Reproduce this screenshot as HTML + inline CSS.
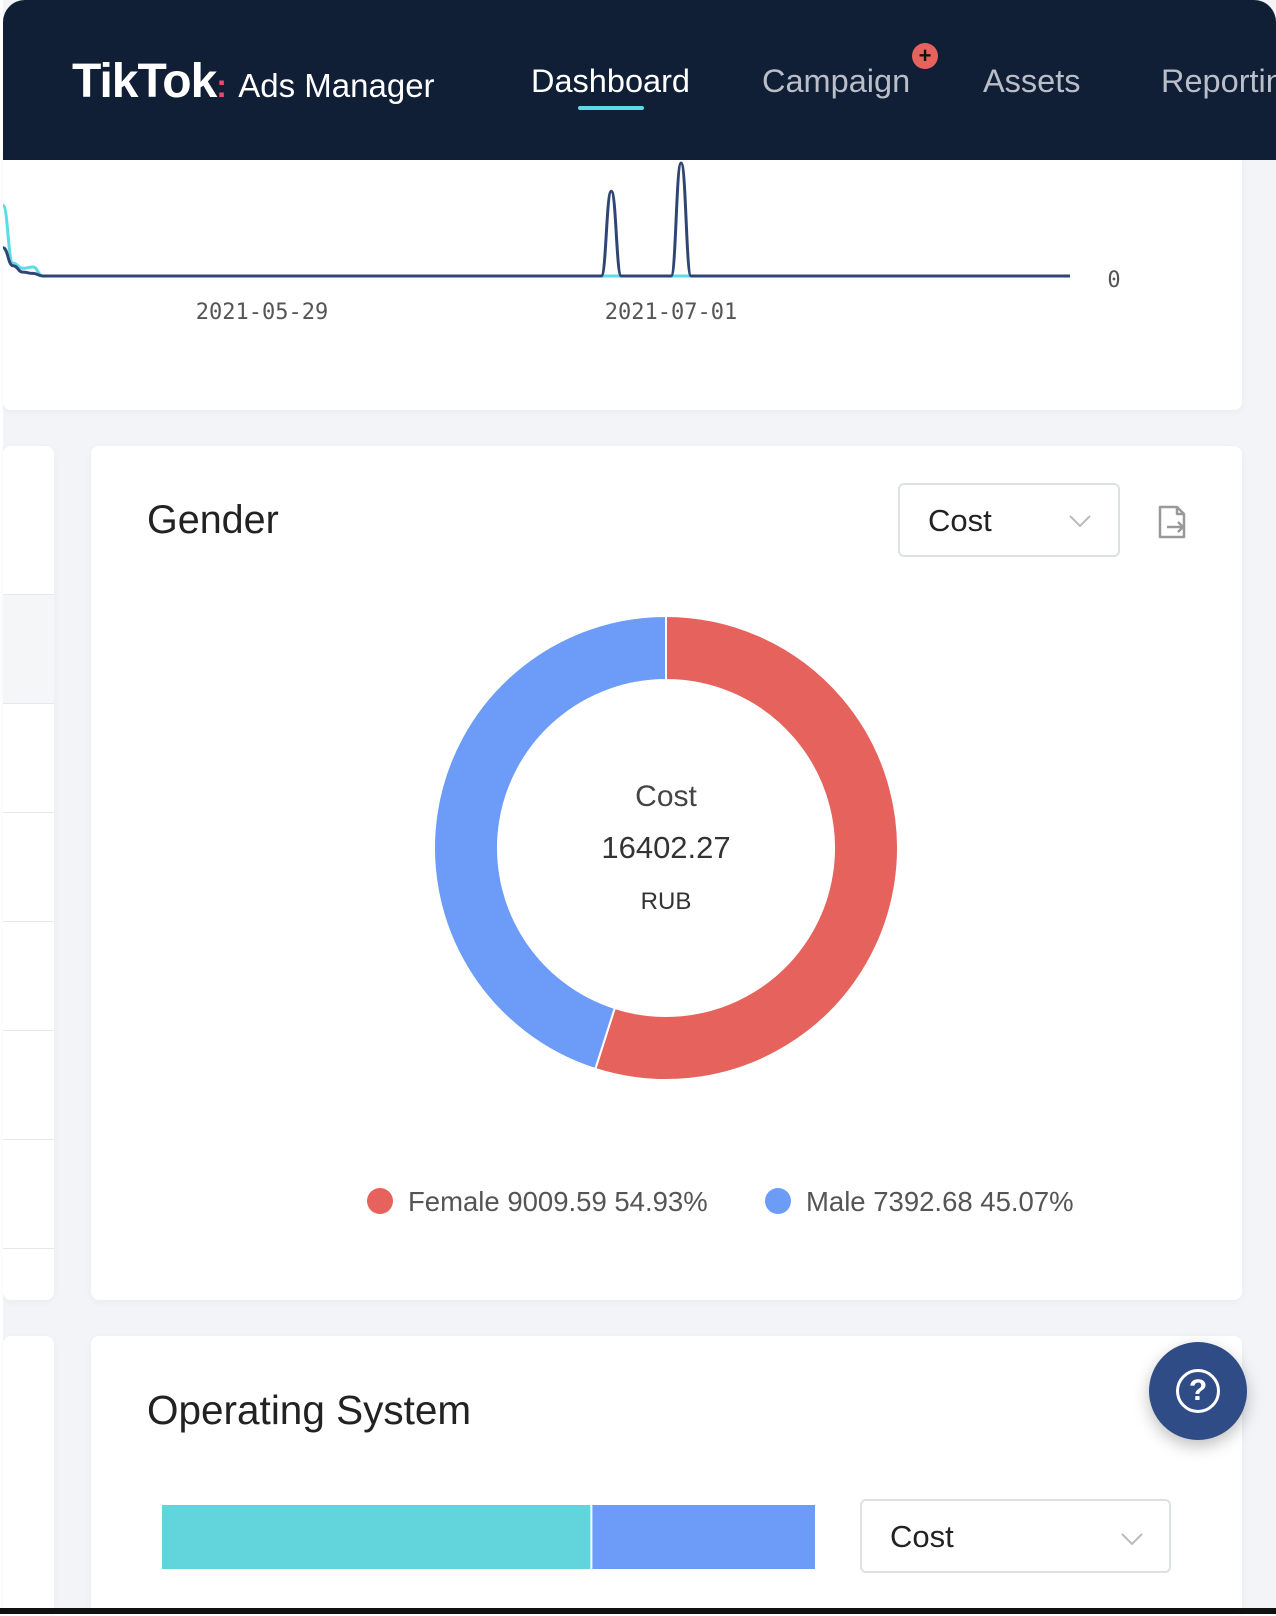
<!DOCTYPE html>
<html><head><meta charset="utf-8">
<style>
body{margin:0;width:1276px;height:1614px;background:#fff;font-family:"Liberation Sans",sans-serif;overflow:hidden;position:relative}
.abs{position:absolute}
.bg{left:3px;top:0;width:1273px;height:1608px;background:#f2f4f7}
.card{background:#fff;border-radius:8px;box-shadow:0 2px 8px rgba(0,0,0,0.04)}
.nav{color:#b9bec8;font-size:32.5px;top:63px}
.sel{border:2px solid #dde1e6;border-radius:6px;background:#fff;box-sizing:border-box}
</style></head><body>
<div class="abs bg"></div>
<div class="abs card" style="left:3px;top:150px;width:1239px;height:260px"></div>
<svg class="abs" style="left:0;top:150px" width="1276" height="180">
<g id="trend"></g>
<text x="1114" y="137" font-size="22" fill="#555" text-anchor="middle" font-family="DejaVu Sans Mono, monospace">0</text>
<text x="262" y="169" font-size="22" fill="#555" text-anchor="middle" font-family="DejaVu Sans Mono, monospace">2021-05-29</text>
<text x="671" y="169" font-size="22" fill="#555" text-anchor="middle" font-family="DejaVu Sans Mono, monospace">2021-07-01</text>
</svg>
<div class="abs" style="left:3px;top:0;width:1273px;height:160px;background:#101e36;border-radius:22px 22px 0 0"></div>
<div class="abs" style="left:72px;top:54px;color:#fff;font-size:48px;font-weight:bold;letter-spacing:-1px">TikTok<span style="color:#e94c6a;font-size:32px">:</span> <span style="font-weight:normal;font-size:33px;letter-spacing:0">Ads Manager</span></div>
<div class="abs nav" style="left:531px;color:#fff">Dashboard</div>
<div class="abs" style="left:578px;top:106px;width:66px;height:4px;background:#5ddbe4;border-radius:2px"></div>
<div class="abs nav" style="left:762px">Campaign</div>
<div class="abs" style="left:912px;top:43px;width:26px;height:26px;border-radius:13px;background:#e5635c;color:#111;font-size:22px;line-height:25px;text-align:center;font-weight:bold">+</div>
<div class="abs nav" style="left:983px">Assets</div>
<div class="abs nav" style="left:1161px">Reporting</div>

<div class="abs card" style="left:3px;top:446px;width:51px;height:854px">
<div style="position:absolute;left:0;top:148px;width:51px;height:108px;background:#f5f6f8;border-top:1px solid #e6e8eb;border-bottom:1px solid #e6e8eb"></div>
<div style="position:absolute;left:0;top:366px;width:51px;border-top:1px solid #e6e8eb"></div>
<div style="position:absolute;left:0;top:475px;width:51px;border-top:1px solid #e6e8eb"></div>
<div style="position:absolute;left:0;top:584px;width:51px;border-top:1px solid #e6e8eb"></div>
<div style="position:absolute;left:0;top:693px;width:51px;border-top:1px solid #e6e8eb"></div>
<div style="position:absolute;left:0;top:802px;width:51px;border-top:1px solid #e6e8eb"></div>
</div>
<div class="abs card" style="left:91px;top:446px;width:1151px;height:854px"></div>
<div class="abs" style="left:147px;top:498px;font-size:39.5px;color:#222">Gender</div>
<div class="abs sel" style="left:898px;top:483px;width:222px;height:74px">
<span style="position:absolute;left:28px;top:18px;font-size:31px;color:#222">Cost</span>
<svg style="position:absolute;left:168px;top:28px" width="24" height="16"><polyline points="2,3 12,13 22,3" fill="none" stroke="#bbb" stroke-width="2"/></svg></div>
<svg class="abs" style="left:1157px;top:504px" width="32" height="36"><path d="M3 3h17l7 7v23H3z M20 3v7h7" fill="none" stroke="#999" stroke-width="2.5" stroke-linejoin="round"/><path d="M10 23h16m-5-5 5 5-5 5" fill="none" stroke="#999" stroke-width="2.5"/></svg>
<svg class="abs" style="left:0;top:0" width="1276" height="1300"><g id="donut"></g>
<text x="666" y="806" font-size="30" fill="#444" text-anchor="middle">Cost</text>
<text x="666" y="858" font-size="31" fill="#333" text-anchor="middle">16402.27</text>
<text x="666" y="909" font-size="24" fill="#333" text-anchor="middle">RUB</text>
<g id="legend"></g></svg>

<div class="abs card" style="left:3px;top:1336px;width:51px;height:280px"></div>
<div class="abs card" style="left:91px;top:1336px;width:1151px;height:280px"></div>
<div class="abs" style="left:147px;top:1387px;font-size:40.5px;color:#222">Operating System</div>
<svg class="abs" style="left:0;top:1490px" width="850" height="100"><g id="osbar"></g></svg>
<div class="abs sel" style="left:860px;top:1499px;width:311px;height:74px">
<span style="position:absolute;left:28px;top:18px;font-size:31px;color:#222">Cost</span>
<svg style="position:absolute;left:258px;top:30px" width="24" height="16"><polyline points="2,3 12,13 22,3" fill="none" stroke="#bbb" stroke-width="2"/></svg></div>
<div class="abs" style="left:1149px;top:1342px;width:98px;height:98px;border-radius:49px;background:#2f4c86;box-shadow:0 6px 16px rgba(0,0,0,0.25)">
<div style="position:absolute;left:27px;top:27px;width:38px;height:38px;border:3px solid #fff;border-radius:50%;color:#fff;font-size:30px;line-height:38px;text-align:center;font-weight:bold">?</div></div>
<div class="abs" style="left:0;top:1608px;width:1276px;height:6px;background:#111"></div>
<script>
const NS='http://www.w3.org/2000/svg';
function mk(t,a,p){const e=document.createElementNS(NS,t);for(const k in a)e.setAttribute(k,a[k]);p.appendChild(e);return e;}
const trendDates=[0,1,2,3,4,5,6,7,8,9,10,11,12,13,14,15,16,17,18,19,20,21,22,23,24,25,26,27,28,29,30,31,32,33,34,35,36,37,38,39,40,41,42,43,44,45,46,47,48,49,50,51,52,53,54,55,56,57,58,59,60,61,62,63,64,65,66,67,68,69,70,71,72,73,74,75,76,77,78,79,80,81,82,83,84,85,86,87,88,89,90,91,92,93,94,95,96,97,98,99,100,101,102,103,104,105,106,107];
const costSeries=[22,8,3,2,0,0,0,0,0,0,0,0,0,0,0,0,0,0,0,0,0,0,0,0,0,0,0,0,0,0,0,0,0,0,0,0,0,0,0,0,0,0,0,0,0,0,0,0,0,0,0,0,0,0,0,0,0,0,0,0,0,66,0,0,0,0,0,0,88,0,0,0,0,0,0,0,0,0,0,0,0,0,0,0,0,0,0,0,0,0,0,0,0,0,0,0,0,0,0,0,0,0,0,0,0,0,0,0];
const convSeries=[55,10,6,7,0,0,0,0,0,0,0,0,0,0,0,0,0,0,0,0,0,0,0,0,0,0,0,0,0,0,0,0,0,0,0,0,0,0,0,0,0,0,0,0,0,0,0,0,0,0,0,0,0,0,0,0,0,0,0,0,0,0,0,0,0,0,0,0,0,0,0,0,0,0,0,0,0,0,0,0,0,0,0,0,0,0,0,0,0,0,0,0,0,0,0,0,0,0,0,0,0,0,0,0,0,0,0,0];
const tx=i=>3+i*(1070-3)/(trendDates.length-1);
const ty=v=>126-v*(126-13)/88;
const tg=document.getElementById('trend');
function tline(arr,col,name){let d='M'+tx(0)+' '+ty(arr[0]);
for(let i=1;i<arr.length;i++){const x0=tx(i-1),x1=tx(i),m=(x0+x1)/2;d+=`C${m} ${ty(arr[i-1])} ${m} ${ty(arr[i])} ${x1} ${ty(arr[i])}`;}
const p=mk('path',{d:d,fill:'none',stroke:col,'stroke-width':3,'stroke-linejoin':'round'},tg);

}
tline(convSeries,'#5ddbe4','conversion-line');
tline(costSeries,'#2f4675','cost-line');
const genderLabels=['Female','Male'];
const genderValues=[9009.59,7392.68];
const genderColors=['#e5635c','#6c9cf8'];
const cx=666,cy=848,R=232,r=168;
const total=genderValues.reduce((a,b)=>a+b,0);
const dg=document.getElementById('donut'),lg=document.getElementById('legend');
let a0=-Math.PI/2;
const pt=(rad,a)=>[cx+rad*Math.cos(a),cy+rad*Math.sin(a)];
genderValues.forEach((v,i)=>{const a1=a0+v/total*2*Math.PI;const lf=(a1-a0)>Math.PI?1:0;
const p1=pt(R,a0),p2=pt(R,a1),p3=pt(r,a1),p4=pt(r,a0);
const s=mk('path',{d:`M${p1}A${R} ${R} 0 ${lf} 1 ${p2}L${p3}A${r} ${r} 0 ${lf} 0 ${p4}Z`,fill:genderColors[i],stroke:'#fff','stroke-width':2},dg);


a0=a1;
const lx=[380,778][i];
const c=mk('circle',{cx:lx,cy:1201,r:13,fill:genderColors[i]},lg);


const t=mk('text',{x:lx+28,y:1211,'font-size':27.5,fill:'#555'},lg);
t.textContent=genderLabels[i]+' '+v.toFixed(2)+' '+(v/total*100).toFixed(2)+'%';

});
const osLabels=['Android','iOS'];
const osValues=[10150,5250];
const osColors=['#62d4db','#6c9cf8'];
const og=document.getElementById('osbar');
const osTotal=osValues.reduce((a,b)=>a+b,0);
let bx=162;
osValues.forEach((v,i)=>{const w=v/osTotal*(815-162);
const b=mk('rect',{x:bx,y:15,width:w-(i<osValues.length-1?2:0),height:64,fill:osColors[i]},og);


bx+=w;});
</script>
</body></html>
